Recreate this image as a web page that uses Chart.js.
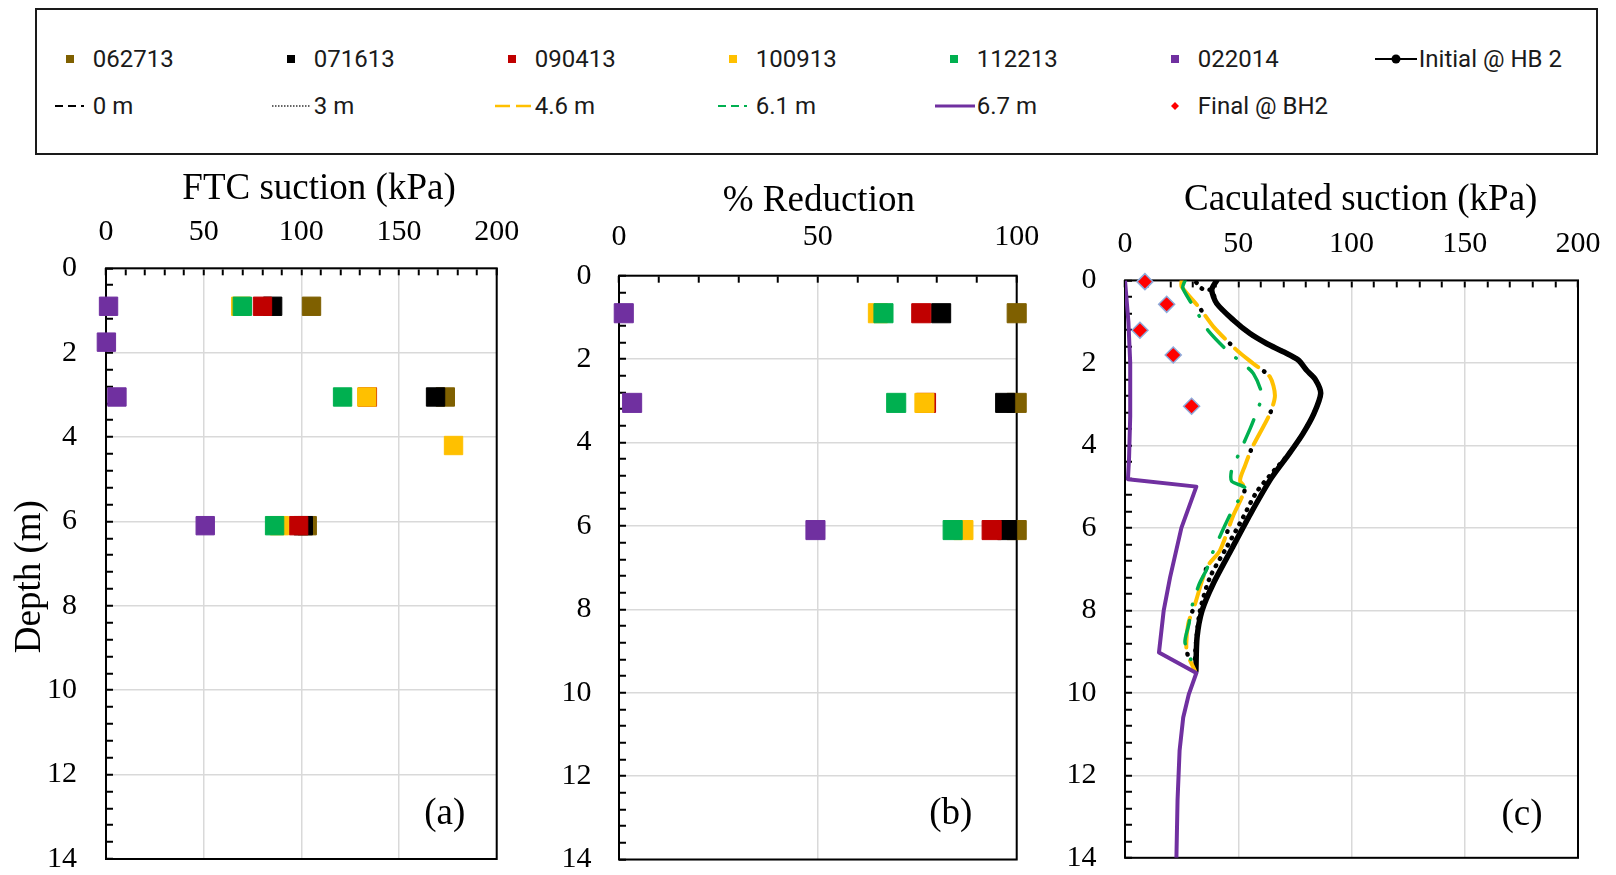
<!DOCTYPE html>
<html lang="en">
<head>
<meta charset="utf-8">
<title>Suction profiles</title>
<script src="https://cdn.jsdelivr.net/npm/chart.js@4.4.1/dist/chart.umd.min.js"></script>
<style>
  html, body { margin: 0; padding: 0; background: #fff; }
  body { position: relative; width: 1616px; height: 875px; overflow: hidden; }
  canvas { position: absolute; top: 160px; }
  #ca { left: 0; }
  #cb { left: 520px; }
  #cc { left: 1040px; }
  #legendBox { position: absolute; left: 35px; top: 8px; width: 1563px; height: 147px; box-sizing: border-box; border: 2px solid #1a1a1a; }
  .key { position: absolute; height: 28px; display: flex; align-items: center; font-family: Roboto, "Liberation Sans", sans-serif; font-size: 24px; color: #1a1a1a; white-space: nowrap; }
  .key svg { width: 44px; height: 20px; margin-right: 2px; flex: none; }
</style>
</head>
<body>
<div id="legendBox"></div>
<canvas id="ca" width="520" height="740"></canvas>
<canvas id="cb" width="520" height="740"></canvas>
<canvas id="cc" width="576" height="740"></canvas>
<script>
// Sampling dates and their marker colours
const dateLabels = ['062713', '071613', '090413', '100913', '112213', '022014'];
const dateColors = ['#7f6000', '#000000', '#c00000', '#ffc000', '#00b050', '#7030a0'];

// (a) FTC suction (kPa) against depth (m)
const ftcDepth = [0.9, 3.05, 6.1];
const ftc062713 = [105.2, 173.7, 103.0];
const ftc071613 = [85.3, 168.7, 101.0];
const ftc090413 = [80.1, 133.8, 98.6];
const ftc100913Depth = [0.9, 3.05, 4.2, 6.1];
const ftc100913 = [69.0, 133.5, 177.9, 88.8];
const ftc112213 = [69.8, 121.1, 86.3];
const ftc022014Depth = [0.9, 1.75, 3.05, 6.1];
const ftc022014 = [1.3, 0.2, 5.6, 50.8];

// (b) % reduction against depth (m)
const redDepth = [0.9, 3.05, 6.1];
const red062713 = [100, 100, 100];
const red071613 = [81.0, 97.1, 97.6];
const red090413 = [76.0, 77.2, 93.7];
const red100913 = [65.1, 76.8, 86.6];
const red112213 = [66.5, 69.7, 83.9];
const red022014 = [1.2, 3.3, 49.4];

// (c) calculated suction (kPa) profiles
const initialDepth = [0, 0.23, 0.56, 0.96, 1.29, 1.53, 1.73, 1.93, 2.18, 2.4, 2.74, 3.23, 3.72, 4.2, 4.8, 5.66, 6.5, 7.36, 8.01, 8.66, 9.47];
const initialSuction = [40.5, 38.3, 40.5, 47.8, 55.2, 62.5, 69.9, 76.5, 80.2, 84.0, 86.4, 83.4, 78.5, 72.5, 64.5, 55.4, 47.2, 38.9, 34.0, 31.8, 31.3];

const m0Depth = [0, 0.15, 0.68, 1.12, 1.69, 2.02, 2.34, 2.79, 3.23, 4.08, 4.49, 4.85, 5.03, 5.27, 5.70, 6.55, 6.96, 7.85, 8.33, 8.98, 9.47];
const m0Suction = [25.0, 25.0, 33.1, 39.0, 49.3, 56.7, 64.0, 66.2, 64.0, 55.9, 53.0, 50.8, 53.0, 51.5, 47.8, 41.9, 36.1, 30.9, 27.9, 27.2, 30.9];

const m3Depth = [0.05, 0.2, 0.25, 0.56, 0.96, 1.29, 1.53, 1.73, 1.93, 2.18, 2.4, 2.74, 3.23, 3.72, 4.2, 4.6, 5.13, 5.74, 6.47, 7.2, 8.01, 8.82, 9.22, 9.47];
const m3Suction = [31.5, 34.0, 38.3, 40.5, 47.8, 55.2, 62.5, 69.9, 76.5, 80.2, 84.0, 86.4, 83.4, 78.5, 72.5, 66.0, 58.1, 52.2, 44.9, 37.5, 33.1, 31.3, 30.9, 31.3];

const m46Depth = [0, 0.15, 0.68, 1.12, 1.69, 2.02, 2.34, 2.79, 3.23, 4.08, 4.49, 4.85, 5.03, 5.27, 5.70, 6.55, 6.96, 7.85, 8.33, 8.98, 9.47];
const m46Suction = [25.0, 25.0, 33.1, 39.0, 49.3, 56.7, 64.0, 66.2, 64.0, 55.9, 53.0, 50.8, 53.0, 51.5, 47.8, 41.9, 36.1, 30.9, 27.9, 27.2, 30.9];

const m61Depth = [0, 0.18, 0.56, 0.92, 1.25, 1.73, 1.98, 2.26, 2.78, 3.25, 3.6, 4.24, 4.59, 4.87, 5.03, 5.34, 5.68, 6.65, 7.0, 7.36, 8.01, 8.31, 8.78, 9.43];
const m61Suction = [26.5, 25.5, 29.4, 33.4, 37.2, 45.6, 51.2, 56.7, 60.4, 57.7, 55.2, 50.0, 47.1, 47.1, 53.0, 50.0, 46.4, 38.3, 36.1, 32.8, 29.0, 28.3, 26.5, 30.9];

const m67Depth = [0, 1.0, 2.0, 3.3, 4.3, 4.82, 5.0, 6.0, 7.2, 8.0, 9.02, 9.52, 10.03, 10.6, 11.4, 12.6, 14.0];
const m67Suction = [0, 1.5, 2.3, 2.3, 1.8, 1.3, 31.5, 24.9, 19.9, 17.1, 15.0, 31.5, 28.2, 25.7, 24.1, 23.2, 22.7];

const finalDepth = [0.03, 0.58, 1.21, 1.81, 3.05];
const finalSuction = [8.8, 18.4, 6.6, 21.3, 29.4];

// tick labels
const suctionTicks = [0, 50, 100, 150, 200];
const reductionTicks = [0, 50, 100];
const depthTicks = [0, 2, 4, 6, 8, 10, 12, 14];

const pairs = (xs, ys) => xs.map((x, i) => ({ x, y: ys[i] }));
const near = (v, list) => list.some(t => Math.abs(t - v) < 1e-6);

Chart.defaults.font.family = '"Liberation Serif", "Times New Roman", serif';
Chart.defaults.color = '#000';

// Frame round the plot area, titles and the panel letter
const panelDecor = {
  id: 'panelDecor',
  beforeDatasetsDraw(chart) {
    const { ctx, chartArea: a } = chart;
    ctx.save();
    ctx.strokeStyle = '#000';
    ctx.lineWidth = 2;
    ctx.strokeRect(a.left, a.top, a.right - a.left, a.bottom - a.top);
    ctx.restore();
  },
  afterDraw(chart, args, o) {
    const { ctx, chartArea: a } = chart;
    ctx.save();
    ctx.fillStyle = '#000';
    ctx.font = '37px "Liberation Serif", serif';
    ctx.textAlign = 'center';
    ctx.textBaseline = 'alphabetic';
    ctx.fillText(o.title, (a.left + a.right) / 2 + o.titleShift, a.top - o.titleRise);
    ctx.fillText(o.tag, a.right - o.tagInset, a.bottom - o.tagRise);
    if (o.yTitle) {
      ctx.translate(o.yTitleX, (a.top + a.bottom) / 2 + o.yTitleShift);
      ctx.rotate(-Math.PI / 2);
      ctx.fillText(o.yTitle, 0, 0);
    }
    ctx.restore();
  }
};
Chart.register(panelDecor);

// the axis boxes are sized by hand; the end labels may hang past the plot
function pinSize(s, w, h) {
  if (w !== null) s.width = w;
  if (h !== null) s.height = h;
  s.paddingLeft = 0;
  s.paddingRight = 0;
  s.paddingTop = 0;
  s.paddingBottom = 0;
}

function topAxis(max, labels, height, pad) {
  return {
    type: 'linear', position: 'top', min: 0, max,
    afterFit: s => pinSize(s, null, height),
    border: { display: false },
    grid: {
      color: c => c.tick && near(c.tick.value, labels) ? '#d9d9d9' : 'rgba(0,0,0,0)',
      lineWidth: 1.5, tickLength: -7, tickWidth: 2, tickColor: '#000'
    },
    ticks: {
      stepSize: 10, autoSkip: false, maxRotation: 0, minRotation: 0, padding: pad,
      font: { size: 30, lineHeight: 1 },
      callback: v => near(v, labels) ? v : ''
    }
  };
}

function depthAxis(width, pad) {
  return {
    type: 'linear', position: 'left', reverse: true, min: 0, max: 14,
    afterFit: s => pinSize(s, width, null),
    border: { display: false },
    grid: {
      color: c => c.tick && near(c.tick.value, depthTicks) ? '#d9d9d9' : 'rgba(0,0,0,0)',
      lineWidth: 1.5, tickLength: -7, tickWidth: 2, tickColor: '#000'
    },
    ticks: {
      stepSize: 0.4, autoSkip: false, padding: pad,
      font: { size: 30, lineHeight: 1 },
      callback: v => near(v, depthTicks) ? v : ''
    }
  };
}

function baseOptions(pad, x, y, decor) {
  return {
    responsive: false, animation: false, devicePixelRatio: 1, events: [],
    layout: { padding: { left: 0, top: 0, right: pad.right, bottom: pad.bottom } },
    plugins: { legend: { display: false }, tooltip: { enabled: false }, panelDecor: decor },
    scales: { x, y }
  };
}

function squares(series, radius) {
  return series.map(([depths, values], i) => ({
    label: dateLabels[i],
    data: pairs(values, depths),
    pointStyle: 'rect',
    pointRadius: radius,
    pointHoverRadius: radius,
    borderWidth: 1,
    backgroundColor: dateColors[i],
    borderColor: dateColors[i],
    order: series.length - i,
    clip: false
  }));
}

// (a)
new Chart(document.getElementById('ca'), {
  type: 'scatter',
  data: {
    datasets: squares([
      [ftcDepth, ftc062713], [ftcDepth, ftc071613], [ftcDepth, ftc090413],
      [ftc100913Depth, ftc100913], [ftcDepth, ftc112213], [ftc022014Depth, ftc022014]
    ], 13)
  },
  options: baseOptions(
    { right: 23.3, bottom: 41 },
    topAxis(200, suctionTicks, 108.3, 28.3),
    depthAxis(106, 36),
    { title: 'FTC suction (kPa)', titleShift: 17.7, titleRise: 69.3, tag: '(a)', tagInset: 52, tagRise: 35.5,
      yTitle: 'Depth (m)', yTitleX: 39.5, yTitleShift: 13 }
  )
});

// (b)
new Chart(document.getElementById('cb'), {
  type: 'scatter',
  data: {
    datasets: squares([
      [redDepth, red062713], [redDepth, red071613], [redDepth, red090413],
      [redDepth, red100913], [redDepth, red112213], [redDepth, red022014]
    ], 13.5)
  },
  options: baseOptions(
    { right: 23.3, bottom: 40.5 },
    topAxis(100, reductionTicks, 115.7, 30.2),
    depthAxis(99, 34.5),
    { title: '% Reduction', titleShift: 1, titleRise: 65, tag: '(b)', tagInset: 66, tagRise: 36 }
  )
});

// (c)
const profile = (label, xs, ys, style) => Object.assign({
  label, data: pairs(xs, ys), showLine: true, pointRadius: 0, pointHoverRadius: 0,
  borderCapStyle: 'round', borderJoinStyle: 'round', tension: 0.25
}, style);

new Chart(document.getElementById('cc'), {
  type: 'scatter',
  data: {
    datasets: [
      profile('Initial @ HB 2', initialSuction, initialDepth, { borderColor: '#000', borderWidth: 5.5, order: 6 }),
      profile('0 m', m0Suction, m0Depth, { borderColor: '#000', borderWidth: 4.5, borderDash: [0.5, 43.5], borderDashOffset: 7, order: 4 }),
      profile('3 m', m3Suction, m3Depth, { borderColor: '#000', borderWidth: 4.5, borderDash: [0.5, 7.5], order: 5 }),
      profile('4.6 m', m46Suction, m46Depth, { borderColor: '#ffc000', borderWidth: 4, borderDash: [30, 14], order: 3 }),
      profile('6.1 m', m61Suction, m61Depth, { borderColor: '#00b050', borderWidth: 3.5, borderDash: [24, 16, 0.5, 16], order: 2 }),
      profile('6.7 m', m67Suction, m67Depth, { borderColor: '#7030a0', borderWidth: 4, tension: 0, borderCapStyle: 'butt', order: 1 }),
      {
        label: 'Final @ BH2', data: pairs(finalSuction, finalDepth),
        pointStyle: 'rectRot', pointRadius: 8, pointHoverRadius: 8,
        backgroundColor: '#ff0000', borderColor: '#8eaadb', borderWidth: 1.5, order: 0, clip: false
      }
    ]
  },
  options: baseOptions(
    { right: 38, bottom: 42.2 },
    topAxis(200, suctionTicks, 120.4, 28.4),
    depthAxis(85, 35.5),
    { title: 'Caculated suction (kPa)', titleShift: 9.2, titleRise: 70.4, tag: '(c)', tagInset: 56, tagRise: 33 }
  )
});

// Shared legend
const swatches = {
  square: c => `<rect x="19" y="6" width="8" height="8" fill="${c}"/>`,
  marker: c => `<line x1="2" y1="10" x2="44" y2="10" stroke="${c}" stroke-width="2"/><circle cx="23" cy="10" r="4.5" fill="${c}"/>`,
  dashDot: c => `<line x1="8" y1="10" x2="42" y2="10" stroke="${c}" stroke-width="2" stroke-dasharray="8 5 8 5 3 9"/>`,
  dotted: c => `<line x1="4" y1="10" x2="42" y2="10" stroke="${c}" stroke-width="1.5" stroke-dasharray="1.5 1.5"/>`,
  longDash: c => `<line x1="6" y1="10" x2="42" y2="10" stroke="${c}" stroke-width="2.5" stroke-dasharray="15 6"/>`,
  solid: c => `<line x1="4" y1="10" x2="44" y2="10" stroke="${c}" stroke-width="3"/>`,
  diamond: c => `<polygon points="23,6 27,10 23,14 19,10" fill="${c}"/>`
};

const legendRows = [
  dateLabels.map((label, i) => [label, 'square', dateColors[i]]).concat([['Initial @ HB 2', 'marker', '#000']]),
  [['0 m', 'dashDot', '#000'], ['3 m', 'dotted', '#333'], ['4.6 m', 'longDash', '#ffc000'],
   ['6.1 m', 'dashDot', '#00b050'], ['6.7 m', 'solid', '#7030a0'], ['Final @ BH2', 'diamond', '#ff0000']]
];
const rowCentres = [59, 106];

legendRows.forEach((row, r) => {
  row.forEach(([label, kind, color], k) => {
    const el = document.createElement('div');
    el.className = 'key';
    el.style.left = (92.8 + 221 * k - 46) + 'px';
    el.style.top = (rowCentres[r] - 14) + 'px';
    el.innerHTML = `<svg viewBox="0 0 44 20">${swatches[kind](color)}</svg><span>${label}</span>`;
    document.body.appendChild(el);
  });
});
</script>
</body>
</html>
